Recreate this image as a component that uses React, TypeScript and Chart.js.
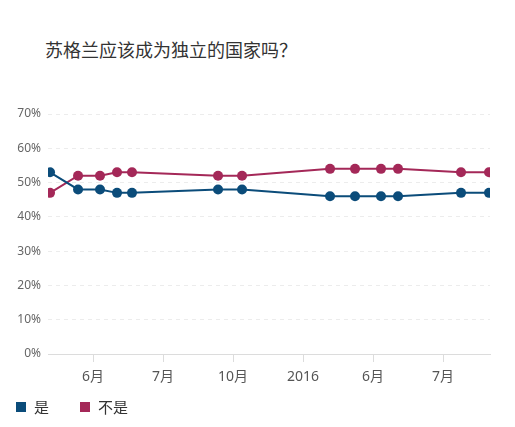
import { useRef, useEffect } from 'react';
import Chart from 'chart.js/auto';

// x positions are expressed in tick units: 1 = first "6月" tick, 2 = "7月", ...
const tickLabels = ['6月', '7月', '10月', '2016', '6月', '7月'];
const pollX = [0.386, 0.786, 1.1, 1.343, 1.557, 2.786, 3.129, 4.386, 4.743, 5.114, 5.357, 6.257, 6.657];
const yesValues = [53, 48, 48, 47, 47, 48, 48, 46, 46, 46, 46, 47, 47];
const noValues = [47, 52, 52, 53, 53, 52, 52, 54, 54, 54, 54, 53, 53];
const seriesNames = ['是', '不是'];
const seriesColors = ['#0b4c7a', '#a42858'];

const FONT = "'Noto Sans', 'Noto Sans CJK SC', sans-serif";

export default function App() {
  const chartRef = useRef<HTMLCanvasElement>(null);
  const chartInstance = useRef<Chart | null>(null);

  useEffect(() => {
    document.body.style.margin = '0';
    if (!chartRef.current) return;
    if (chartInstance.current) chartInstance.current.destroy();
    const ctx = chartRef.current.getContext('2d');
    if (!ctx) return;

    const series = [yesValues, noValues];

    chartInstance.current = new Chart(ctx, {
      type: 'line',
      data: {
        datasets: series.map((vals, i) => ({
          label: seriesNames[i],
          data: vals.map((v, j) => ({ x: pollX[j], y: v })),
          borderColor: seriesColors[i],
          backgroundColor: seriesColors[i],
          borderWidth: 2,
          pointRadius: 5,
          pointBorderWidth: 0,
          tension: 0
        }))
      },
      options: {
        responsive: true,
        maintainAspectRatio: false,
        animation: false,
        layout: {
          padding: { top: 114, left: 0, right: 25, bottom: 0 }
        },
        plugins: {
          legend: { display: false },
          title: { display: false },
          tooltip: { enabled: false }
        },
        scales: {
          x: {
            type: 'linear',
            min: 0.357,
            max: 6.671,
            afterBuildTicks: (scale) => {
              scale.ticks = tickLabels.map((_, i) => ({ value: i + 1 }));
            },
            afterFit: (scale) => {
              scale.height = 73;
            },
            ticks: {
              callback: (value) => tickLabels[Number(value) - 1] ?? '',
              color: '#555',
              font: { family: FONT, size: 14 },
              padding: 7,
              maxRotation: 0,
              autoSkip: false
            },
            grid: {
              drawOnChartArea: false,
              drawTicks: true,
              tickLength: 8,
              color: '#dcdcdc'
            },
            border: { display: true, color: '#dcdcdc' }
          },
          y: {
            min: 0,
            max: 70,
            afterFit: (scale) => {
              scale.width = 48;
            },
            ticks: {
              stepSize: 10,
              callback: (value) => `${value}%`,
              color: '#666',
              font: { family: FONT, size: 12 },
              padding: 7
            },
            grid: {
              drawTicks: false,
              color: '#ececec'
            },
            border: { display: false, dash: [4, 4] }
          }
        }
      }
    });

    return () => {
      if (chartInstance.current) {
        chartInstance.current.destroy();
        chartInstance.current = null;
      }
    };
  }, []);

  return (
    <div style={{ position: 'relative', width: 515, height: 427, background: '#fff', fontFamily: FONT }}>
      <div
        style={{
          position: 'absolute',
          left: 45,
          top: 39,
          fontSize: 18,
          lineHeight: '20px',
          color: '#333',
          fontFamily: "'Noto Sans CJK SC', sans-serif"
        }}
      >
        苏格兰应该成为独立的国家吗？
      </div>
      <div style={{ position: 'absolute', left: 0, top: 0, width: 515, height: 427 }}>
        <canvas ref={chartRef} />
      </div>
      <div
        style={{
          position: 'absolute',
          left: 16,
          top: 398,
          display: 'flex',
          alignItems: 'center',
          fontSize: 15,
          lineHeight: '18px',
          color: '#333'
        }}
      >
        {seriesNames.map((name, i) => (
          <div key={name} style={{ display: 'flex', alignItems: 'center', marginRight: 31 }}>
            <span style={{ display: 'inline-block', width: 10, height: 10, background: seriesColors[i], marginRight: 8 }} />
            {name}
          </div>
        ))}
      </div>
    </div>
  );
}
